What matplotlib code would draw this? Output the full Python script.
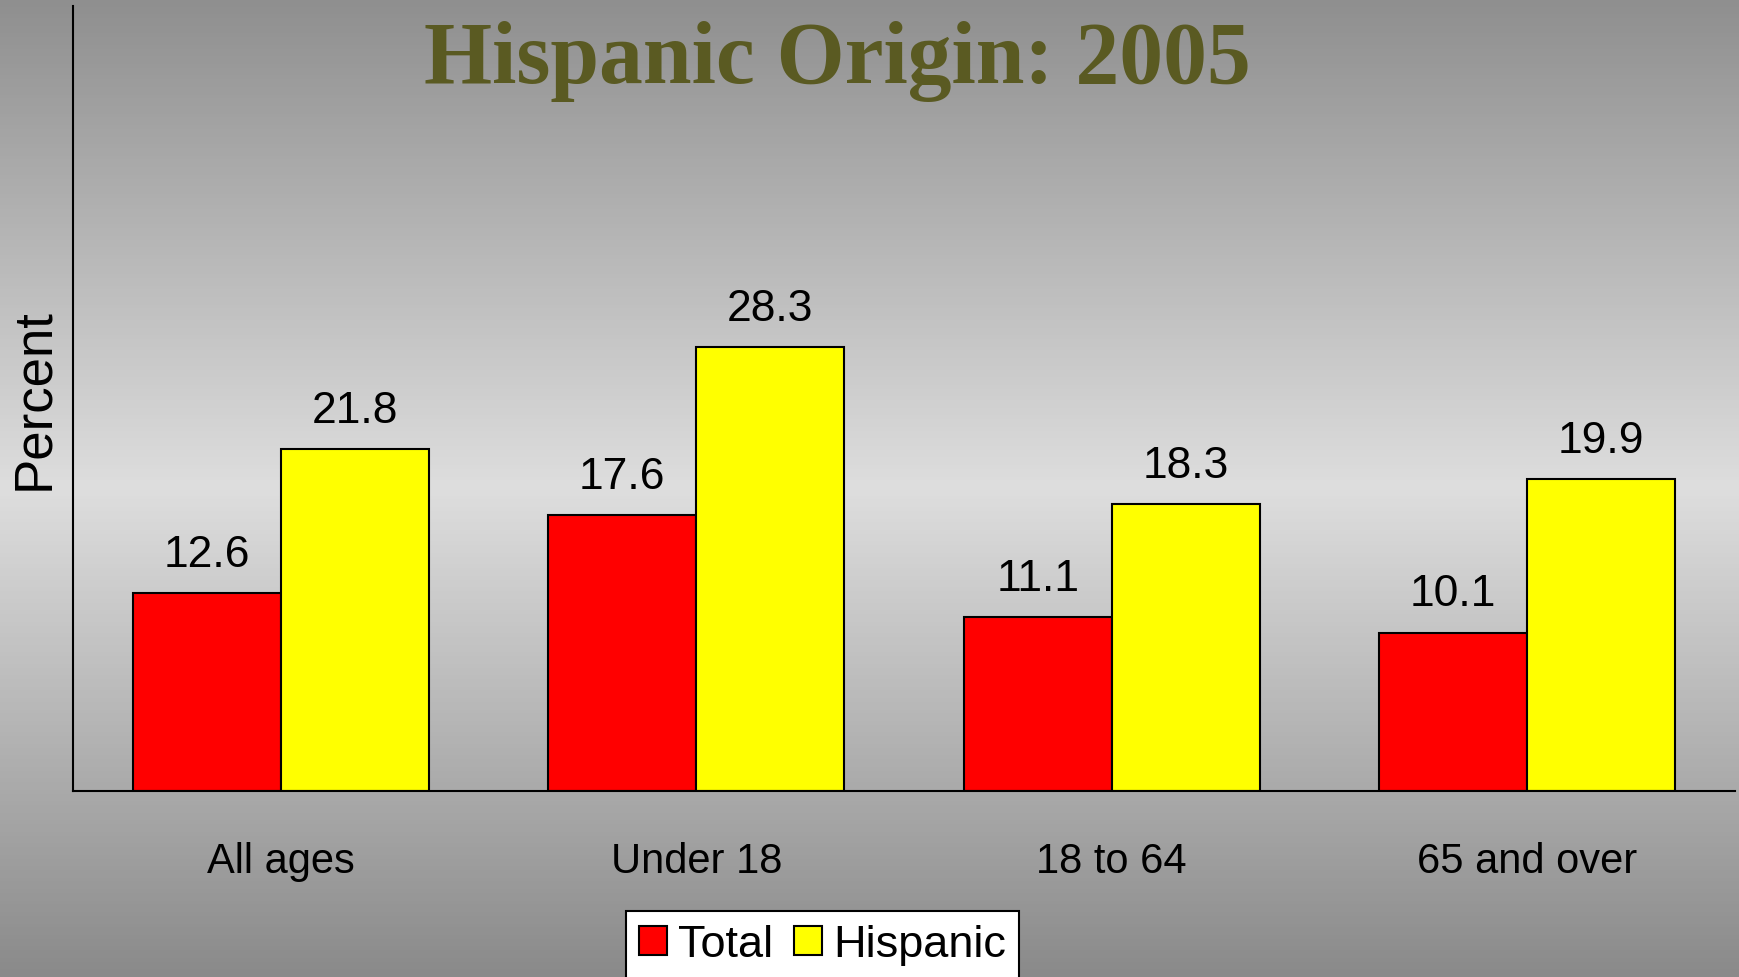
import numpy as np
import matplotlib
matplotlib.use("Agg")
import matplotlib.pyplot as plt
from matplotlib.colors import LinearSegmentedColormap

# data
groups = ["All ages", "Under 18", "18 to 64", "65 and over"]
total = [12.6, 17.6, 11.1, 10.1]
hispanic = [21.8, 28.3, 18.3, 19.9]
series_names = ["Total", "Hispanic"]

plt.rcParams['font.family'] = ['Liberation Sans', 'DejaVu Sans']

fig = plt.figure(figsize=(17.4, 9.78), dpi=100)

# gray gradient background
bg = fig.add_axes([0, 0, 1, 1], zorder=-10)
cmap = LinearSegmentedColormap.from_list(
    "bg", [(0.0, "#8f8f8f"), (0.5, "#dedede"), (1.0, "#8a8a8a")])
grad = np.linspace(0, 1, 256).reshape(-1, 1)
bg.imshow(grad, aspect="auto", cmap=cmap, extent=[0, 1, 0, 1], origin="upper")
bg.axis("off")

ax = fig.add_axes([0.042, 0.19, 0.955, 0.803])
ax.patch.set_visible(False)

x = np.arange(len(groups))
w = 0.356
b1 = ax.bar(x - w / 2, total, w, color="#ff0000", edgecolor="black", linewidth=1.5, label=series_names[0])
b2 = ax.bar(x + w / 2, hispanic, w, color="#ffff00", edgecolor="black", linewidth=1.5, label=series_names[1])

for bars, vals in ((b1, total), (b2, hispanic)):
    for r, v in zip(bars, vals):
        ax.annotate(f"{v}", (r.get_x() + r.get_width() / 2, v), xytext=(0, 13),
                    textcoords="offset points", ha="center", va="bottom", fontsize=32)

ax.set_xlim(-0.5, 3.5)
ax.set_ylim(0, 50)
ax.set_xticks(x)
ax.set_xticklabels(groups, fontsize=30)
ax.tick_params(axis="x", length=0, pad=36)
ax.set_yticks([])
for s in ("top", "right"):
    ax.spines[s].set_visible(False)
for s in ("left", "bottom"):
    ax.spines[s].set_linewidth(1.5)
ax.set_ylabel("Percent", fontsize=38, labelpad=10)

fig.text(0.481, 0.937, "Hispanic Origin: 2005", ha="center", va="center",
         fontsize=63, fontweight="bold", color="#5a5a22", family="Liberation Serif")

leg = ax.legend(loc="upper center", bbox_to_anchor=(0.451, -0.152), ncol=2, fontsize=32.5,
                frameon=True, fancybox=False, edgecolor="black", framealpha=1,
                handlelength=0.62, handleheight=0.62, handletextpad=0.25, columnspacing=0.45,
                borderpad=0.3, borderaxespad=0)
leg.get_frame().set_linewidth(1.5)

fig.savefig("out.png", dpi=100)
